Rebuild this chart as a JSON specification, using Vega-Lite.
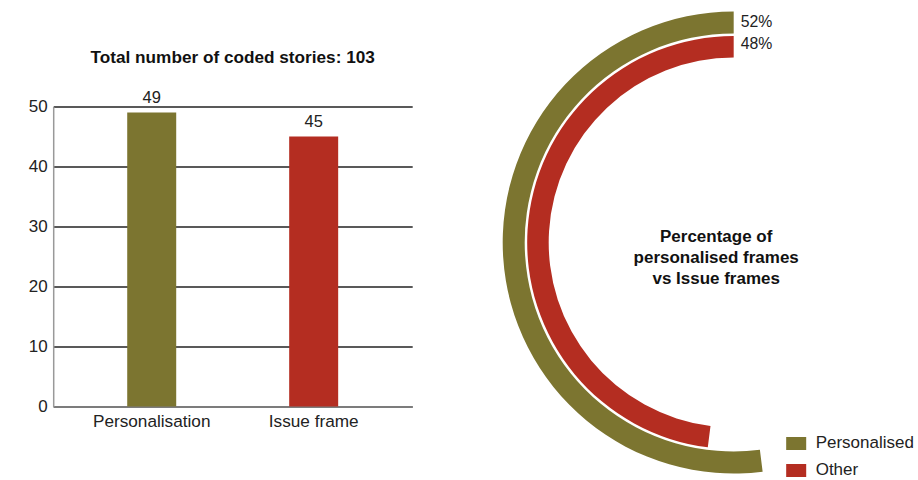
{
  "$schema": "https://vega.github.io/schema/vega-lite/v6.json",
  "padding": {"left": 28.2, "top": 11.5, "right": 0, "bottom": 0},
  "config": {
    "view": {"stroke": null},
    "font": "Liberation Sans",
    "axis": {"labelFont": "Liberation Sans"},
    "legend": {"labelFont": "Liberation Sans"}
  },
  "datasets": {
    "stories": [
      {"frame": "Personalisation", "count": 49},
      {"frame": "Issue frame", "count": 45}
    ],
    "share": [
      {"frame": "Personalised", "share": 0.52},
      {"frame": "Other", "share": 0.48}
    ]
  },
  "bounds": "flush",
  "spacing": 141.5,
  "resolve": {"scale": {"color": "independent"}, "legend": {"color": "independent"}},
  "hconcat": [
    {
      "width": 359,
      "height": 300,
      "title": {"text": "Total number of coded stories: 103", "anchor": "middle", "fontSize": 17.2, "fontWeight": "bold", "color": "#111", "offset": 23},
      "data": {"name": "stories"},
      "encoding": {
        "x": {
          "field": "frame", "type": "nominal", "sort": null,
          "scale": {"paddingInner": 0.6975, "paddingOuter": 0.457},
          "axis": {"title": null, "labelAngle": 0, "ticks": false, "grid": false, "domainColor": "#888", "domainWidth": 1.5, "labelPadding": 6.5, "labelFontSize": 17.2, "labelColor": "#222"}
        },
        "y": {
          "field": "count", "type": "quantitative",
          "scale": {"domain": [0, 50]},
          "axis": {"title": null, "values": [0, 10, 20, 30, 40, 50], "ticks": false, "grid": true, "gridColor": "#222", "gridWidth": 1.3, "domainColor": "#999", "domainWidth": 1.5, "labelPadding": 6, "labelFontSize": 17, "labelColor": "#222"}
        }
      },
      "layer": [
        {
          "mark": {"type": "bar"},
          "encoding": {
            "color": {"field": "frame", "type": "nominal", "scale": {"domain": ["Personalisation", "Issue frame"], "range": ["#7c7530", "#b42d21"]}, "legend": null}
          }
        },
        {
          "mark": {"type": "text", "baseline": "alphabetic", "dy": -10, "fontSize": 16.5, "color": "#222"},
          "encoding": {"text": {"field": "count", "type": "quantitative"}}
        }
      ]
    },
    {
      "width": 360,
      "height": 272,
      "data": {"name": "share"},
      "layer": [
        {
          "transform": [{"filter": "datum.frame === 'Personalised'"}],
          "mark": {"type": "arc", "radius": 231, "radius2": 209},
          "encoding": {
            "theta": {"field": "share", "type": "quantitative", "stack": null, "scale": {"domain": [0, 1], "range": [0, -6.283185]}},
            "theta2": {"datum": 0},
            "color": {
              "field": "frame", "type": "nominal",
              "scale": {"domain": ["Personalised", "Other"], "range": ["#7c7530", "#b42d21"]},
              "legend": {"title": null, "orient": "none", "legendX": 234, "legendY": 328.5, "padding": 0, "labelFontSize": 17, "labelColor": "#222", "symbolType": "M-1.54,-1H1.54V1H-1.54Z", "symbolSize": 169, "symbolStrokeWidth": 0, "symbolOpacity": 1, "labelOffset": 11, "rowPadding": 9}
            }
          }
        },
        {
          "transform": [{"filter": "datum.frame === 'Other'"}],
          "mark": {"type": "arc", "radius": 206.5, "radius2": 185},
          "encoding": {
            "theta": {"field": "share", "type": "quantitative", "stack": null},
            "theta2": {"datum": 0},
            "color": {"field": "frame", "type": "nominal"}
          }
        },
        {
          "transform": [{"filter": "datum.frame === 'Personalised'"}],
          "mark": {"type": "text", "radius": 221, "theta": 0, "align": "left", "baseline": "middle", "dx": 7, "fontSize": 15.8, "color": "#222"},
          "encoding": {"text": {"field": "share", "type": "quantitative", "format": ".0%"}}
        },
        {
          "transform": [{"filter": "datum.frame === 'Other'"}],
          "mark": {"type": "text", "radius": 199, "theta": 0, "align": "left", "baseline": "middle", "dx": 7, "fontSize": 15.8, "color": "#222"},
          "encoding": {"text": {"field": "share", "type": "quantitative", "format": ".0%"}}
        },
        {
          "data": {"values": [{"caption": "Percentage of\npersonalised frames\nvs Issue frames"}]},
          "mark": {"type": "text", "lineBreak": "\n", "lineHeight": 21, "align": "center", "baseline": "middle", "dx": -17.5, "dy": -5, "fontSize": 17, "fontWeight": "bold", "color": "#111"},
          "encoding": {"text": {"field": "caption", "type": "nominal"}}
        }
      ]
    }
  ]
}
